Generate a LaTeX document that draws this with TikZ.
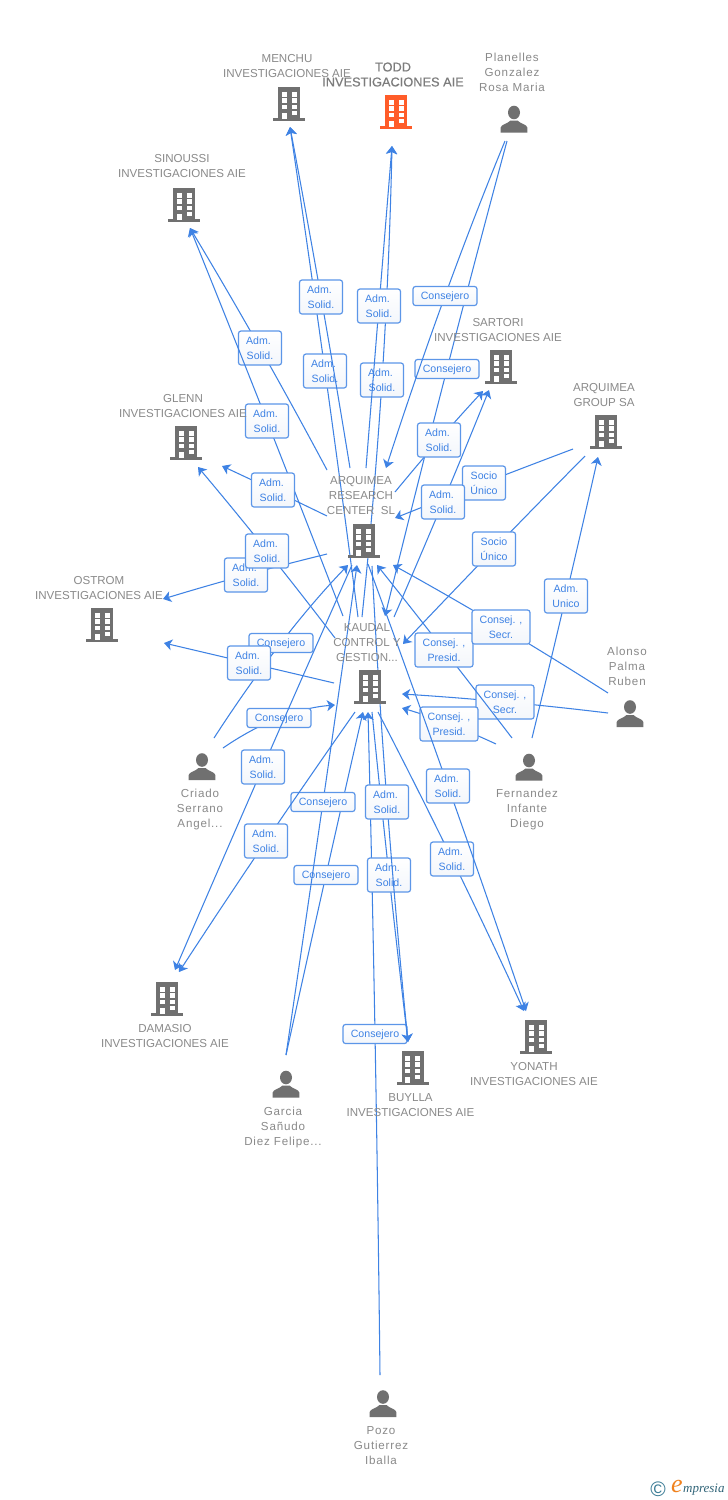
\documentclass[tikz,border=0pt]{standalone}
\usepackage{fontspec}
\setmainfont{Liberation Sans}
\newfontfamily\seriflogo{Liberation Serif}
\newfontfamily\personfont[LetterSpace=7]{Liberation Sans}
\newfontfamily\toddfont[FakeBold=0.35]{Liberation Sans}
\usetikzlibrary{calc,arrows.meta}
\definecolor{linkblue}{RGB}{62,130,228}
\definecolor{boxblue}{RGB}{92,150,232}
\definecolor{boxshade}{RGB}{243,246,251}
\definecolor{iconGray}{RGB}{112,112,112}
\definecolor{iconOrange}{RGB}{255,92,41}
\definecolor{txtGray}{RGB}{138,138,138}
\definecolor{logoTeal}{RGB}{60,125,150}
\definecolor{logoOrange}{RGB}{240,130,30}
\tikzset{
  linkline/.style={draw=linkblue,line width=1.05pt,-{Stealth[length=8pt,width=11pt,inset=2.2pt]}},
  lblbase/.style={draw=boxblue,line width=1.2pt,rounded corners=2.5pt,top color=white,bottom color=boxshade,inner sep=0pt,
     text=linkblue,align=center,font=\fontsize{10.6}{15}\selectfont},
  solidbox/.style={lblbase,minimum width=43pt,minimum height=34pt},
  consbox/.style={lblbase,minimum width=64pt,minimum height=19pt,text height=8pt,text depth=2pt},
  secrbox/.style={lblbase,minimum width=58pt,minimum height=34pt},
  nodetxt/.style={inner sep=0pt,yshift=-0.7pt,text=txtGray,align=center,font=\fontsize{11.55}{15}\selectfont},
  persontxt/.style={inner sep=0pt,text=txtGray,align=center,font=\personfont\fontsize{11.6}{15}\selectfont},
  maintxt/.style={inner sep=0pt,text=txtGray!90!black,align=center,font=\toddfont\fontsize{12.8}{15}\selectfont},
  pics/buildingicon/.style={code={
    \fill[#1] (-11,-17) rectangle (11,15);
    \fill[#1] (-16,14) rectangle (16,17);
    \foreach \ya/\yb in {-12.3/-7.3,-5.7/-0.7,1/5.3}{
      \fill[white] (-7.5,\ya) rectangle (-2.5,\yb);
      \fill[white] (2.5,\ya) rectangle (7.5,\yb);
    }
    \fill[white] (2.5,7) rectangle (7.5,11);
    \fill[white] (-7.5,8.7) rectangle (-2.5,15);
  }},
  pics/personicon/.style={code={
    \fill[#1] (0,-6.5) ellipse (6 and 6.8);
    \fill[#1] (-13.3,13.5) -- (-13.3,8.5) .. controls (-13,5.5) and (-6,4.5) .. (-3.5,1.5)
      -- (3.5,1.5) .. controls (6,4.5) and (13,5.5) .. (13.3,8.5) -- (13.3,13.5) -- cycle;
  }},
}
\newcommand{\linkedge}[6]{%
  \coordinate (#1s) at (#2);
  \coordinate (#1t) at (#3);
  \coordinate (#1c) at (#4);
  \draw[linkline] (#1s) .. controls ($1.3333*(#1c)-0.3333*(#1t)$) and ($1.3333*(#1c)-0.3333*(#1s)$) .. (#1t);
  \node[#5] (#1) at (#1c) {#6};
}
\newcommand{\admsolid}{Adm.\hspace*{3pt}\\Solid.}
\begin{document}
\begin{tikzpicture}[x=1pt,y=-1pt]
\useasboundingbox (0,0) rectangle (728,1500);
\fill[white] (0,0) rectangle (728,1500);
% connectors and their labels
\linkedge{eA}{327,470}{190,228}{260,348}{solidbox}{\admsolid}
\linkedge{eB}{343,616}{190,228}{267,421}{solidbox}{\admsolid}
\linkedge{eC}{327,516}{222,466}{273,490}{solidbox}{\admsolid}
\linkedge{eD}{327,554}{163,599}{246,575}{solidbox}{\admsolid}
\linkedge{eE}{335,638}{198,467}{267,551}{solidbox}{\admsolid}
\linkedge{eF}{214,738}{348,565}{281,643}{consbox}{Consejero}
\linkedge{eG}{334,683}{164,643}{249,663}{solidbox}{\admsolid}
\linkedge{eH}{223,748}{335,705}{279,718}{consbox}{Consejero}
\linkedge{eJ}{358,617}{290,127}{325,371}{solidbox}{\admsolid}
\linkedge{eI}{350,468}{290,127}{321,297}{solidbox}{\admsolid}
\linkedge{eK}{362,617}{392,146}{382,380}{solidbox}{\admsolid}
\linkedge{eL}{366,468}{392,146}{379,306}{solidbox}{\admsolid}
\linkedge{eM}{507,141}{385,616}{447,369}{consbox}{Consejero}
\linkedge{eN}{505,141}{386,468}{445,296}{consbox}{Consejero}
\linkedge{eO}{395,492}{483,391}{439,440}{solidbox}{\admsolid}
\linkedge{eP}{573,449}{395,518}{484,483}{solidbox}{Socio\\Único}
\linkedge{eQ}{394,617}{489,390}{443,502}{solidbox}{\admsolid}
\linkedge{eR}{585,456}{403,644}{494,549}{solidbox}{Socio\\Único}
\linkedge{eS}{532,738}{598,457}{566,596}{solidbox}{Adm.\\Unico}
\linkedge{eT}{608,713}{402,694}{505,702}{secrbox}{Consej. ,\\Secr.}
\linkedge{eU}{512,738}{377,565}{444,650}{secrbox}{Consej. ,\\Presid.}
\linkedge{eV}{608,693}{393,565}{501,627}{secrbox}{Consej. ,\\Secr.}
\linkedge{eW}{496,744}{402,708}{449,724}{secrbox}{Consej. ,\\Presid.}
\linkedge{eX}{378,712}{524,1011}{452,859}{solidbox}{\admsolid}
\linkedge{eY}{368,564}{526,1011}{448,786}{solidbox}{\admsolid}
\linkedge{eZ}{380,1375}{368,712}{375,1034}{consbox}{Consejero}
\linkedge{fA}{372,712}{408,1042}{389,875}{solidbox}{\admsolid}
\linkedge{fB}{372,566}{408,1042}{387,802}{solidbox}{\admsolid}
\linkedge{fC}{286,1055}{363,712}{326,875}{consbox}{Consejero}
\linkedge{fD}{286,1055}{357,565}{323,802}{consbox}{Consejero}
\linkedge{fE}{352,565}{175,970}{263,767}{solidbox}{\admsolid}
\linkedge{fF}{355,712}{179,972}{266,841}{solidbox}{\admsolid}
% icons
\pic (iMenchu) at (289,104) {buildingicon=iconGray};
\pic (iTodd) at (396,112) {buildingicon=iconOrange};
\pic (iSinoussi) at (184,205) {buildingicon=iconGray};
\pic (iGlenn) at (186,443) {buildingicon=iconGray};
\pic (iSartori) at (501,367) {buildingicon=iconGray};
\pic (iGroup) at (606,432) {buildingicon=iconGray};
\pic (iResearch) at (363.5,541) {buildingicon=iconGray};
\pic (iKaudal) at (370,687) {buildingicon=iconGray};
\pic (iOstrom) at (102,625) {buildingicon=iconGray};
\pic (iDamasio) at (167,999) {buildingicon=iconGray};
\pic (iBuylla) at (412.5,1068) {buildingicon=iconGray};
\pic (iYonath) at (536,1037) {buildingicon=iconGray};
\pic (iPlanelles) at (514,119) {personicon=iconGray};
\pic (iCriado) at (202,766.5) {personicon=iconGray};
\pic (iAlonso) at (630,713.5) {personicon=iconGray};
\pic (iFernandez) at (529,767) {personicon=iconGray};
\pic (iGarcia) at (286,1084) {personicon=iconGray};
\pic (iPozo) at (383,1403.5) {personicon=iconGray};
% entity names
\node[nodetxt] (menchu) at (287,65.5) {MENCHU\\INVESTIGACIONES AIE};
\node[maintxt] (todd) at (393,74.5) {TODD\\INVESTIGACIONES AIE};
\node[persontxt] (planelles) at (512,72) {Planelles\\Gonzalez\\Rosa Maria};
\node[nodetxt] (sinoussi) at (182,165.5) {SINOUSSI\\INVESTIGACIONES AIE};
\node[nodetxt] (glenn) at (183,405.5) {GLENN\\INVESTIGACIONES AIE};
\node[nodetxt] (sartori) at (498,329.5) {SARTORI\\INVESTIGACIONES AIE};
\node[nodetxt] (group) at (604,394.5) {ARQUIMEA\\GROUP SA};
\node[nodetxt] (research) at (361,495) {ARQUIMEA\\RESEARCH\\CENTER \ SL};
\node[nodetxt] (kaudal) at (367,642) {KAUDAL\\CONTROL Y\\GESTION...};
\node[nodetxt] (ostrom) at (99,587.5) {OSTROM\\INVESTIGACIONES AIE};
\node[persontxt] (criado) at (200,809) {Criado\\Serrano\\Angel...};
\node[persontxt] (alonso) at (627,666) {Alonso\\Palma\\Ruben};
\node[persontxt] (fernandez) at (527,809) {Fernandez\\Infante\\Diego};
\node[persontxt] (garcia) at (283,1127) {Garcia\\Sañudo\\Diez Felipe...};
\node[persontxt] (pozo) at (381,1446) {Pozo\\Gutierrez\\Iballa};
\node[nodetxt] (damasio) at (165,1035.5) {DAMASIO\\INVESTIGACIONES AIE};
\node[nodetxt] (buylla) at (410.5,1104.5) {BUYLLA\\INVESTIGACIONES AIE};
\node[nodetxt] (yonath) at (534,1073.5) {YONATH\\INVESTIGACIONES AIE};
% logo
\node[inner sep=0pt,text=logoTeal,font=\fontsize{21}{21}\selectfont] (logoc) at (658,1489) {©};
\node[inner sep=0pt,text=logoOrange,font=\seriflogo\itshape\fontsize{26}{26}\selectfont] (logoe) at (677,1486) {e};
\node[inner sep=0pt,anchor=west,text=logoTeal!80!black,font=\seriflogo\itshape\fontsize{13}{13}\selectfont] (logow) at (683,1490) {mpresia};
\end{tikzpicture}
\end{document}
